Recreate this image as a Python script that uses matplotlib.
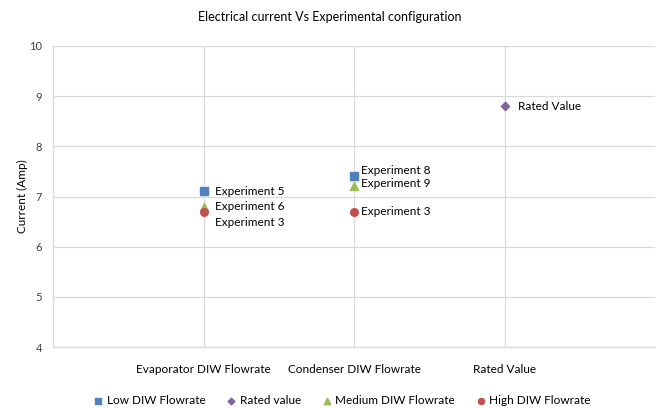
import matplotlib
matplotlib.use("Agg")
import matplotlib.pyplot as plt
import numpy as np

plt.rcParams['font.family'] = ['Lato', 'DejaVu Sans']

categories = ["Evaporator DIW Flowrate", "Condenser DIW Flowrate", "Rated Value"]
low_flow = [7.1, 7.4, np.nan]
rated = [np.nan, np.nan, 8.8]
medium_flow = [6.8, 7.2, np.nan]
high_flow = [6.7, 6.7, np.nan]

# point labels: (category index, value, text, offset in points)
point_labels = [
    (0, 7.1, "Experiment 5", (8, 0)),
    (0, 6.8, "Experiment 6", (8, 0)),
    (0, 6.7, "Experiment 3", (8, -8)),
    (1, 7.4, "Experiment 8", (5, 4)),
    (1, 7.2, "Experiment 9", (5, 2)),
    (1, 6.7, "Experiment 3", (5, 0)),
    (2, 8.8, "Rated Value", (10, 0)),
]

c_blue, c_purple, c_green, c_red = "#4F81BD", "#8064A2", "#9BBB59", "#C0504D"
grid_c = "#D9D9D9"
text_c = "#404040"

fig = plt.figure(figsize=(6.59, 4.08), dpi=100)
ax = fig.add_axes([53/659, 1-347/408, (655-53)/659, (347-46)/408])

x = np.arange(1, len(categories) + 1)
ax.scatter(x, low_flow, marker="s", s=30, color=c_blue, label="Low DIW Flowrate", zorder=3)
ax.scatter(x, rated, marker="D", s=18, color=c_purple, label="Rated value", zorder=3)
ax.scatter(x, medium_flow, marker="^", s=34, color=c_green, label="Medium DIW Flowrate", zorder=3)
ax.scatter(x, high_flow, marker="o", s=30, color=c_red, label="High DIW Flowrate", zorder=3)

for ci, v, t, off in point_labels:
    ax.annotate(t, (x[ci], v), xytext=off, textcoords="offset points",
                ha="left", va="center", fontsize=8.5, color="#000000")

ax.set_xlim(0, 4)
ax.set_ylim(4, 10)
ax.set_xticks(x)
ax.set_xticklabels(categories, fontsize=8.5, color="#000000")
ax.set_yticks(np.arange(4, 11, 1))
ax.tick_params(axis="y", labelsize=8, colors=text_c, length=0, pad=8)
ax.tick_params(axis="x", length=0, pad=12)
ax.grid(True, color=grid_c, linewidth=0.9)
ax.set_axisbelow(True)
for s in ["top", "right"]:
    ax.spines[s].set_visible(False)
for s in ["left", "bottom"]:
    ax.spines[s].set_color(grid_c)
    ax.spines[s].set_linewidth(0.9)

ax.set_ylabel("Current (Amp)", fontsize=8.5, color="#000000")
ax.yaxis.set_label_coords(-25/602, 0.5)
fig.suptitle("Electrical current Vs Experimental configuration", fontsize=9, y=1-17/408, va="center")

leg = fig.legend(loc="center", bbox_to_anchor=(341/659, 1-401/408), ncol=4, frameon=False,
                 fontsize=8.5, handletextpad=0.1, columnspacing=1.6, handlelength=1.2,
                 markerscale=0.8)

fig.savefig("out.png", dpi=100, facecolor="white")
